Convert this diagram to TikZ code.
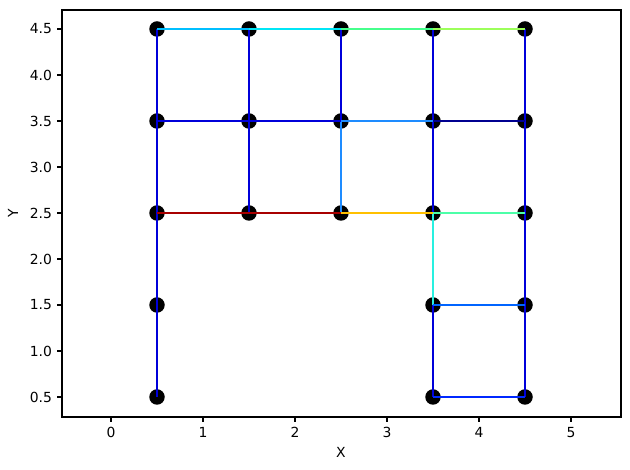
\documentclass[tikz,border=0pt]{standalone}
\usepackage{fontspec}
\setmainfont{DejaVu Sans}
\begin{document}
\begin{tikzpicture}[x=1pt,y=1pt,
  dot/.style={circle,fill=black,inner sep=0pt,minimum size=15.5pt},
  edge/.style={line width=2pt},
  frm/.style={line width=1.1pt},
  ticklab/.style={font=\fontsize{13.9}{16}\selectfont,inner sep=0pt},
  axlab/.style={font=\fontsize{13.9}{16}\selectfont,inner sep=0pt}]
\definecolor{dk}{HTML}{0000DA}
\definecolor{nv}{HTML}{000090}
\definecolor{ca}{HTML}{00BFFF}
\definecolor{cb}{HTML}{00E6F6}
\definecolor{cc}{HTML}{46FF8C}
\definecolor{cd}{HTML}{9CFF5A}
\definecolor{st}{HTML}{1E8CFF}
\definecolor{mr}{HTML}{A80000}
\definecolor{og}{HTML}{FFC000}
\definecolor{aq}{HTML}{4CFFA8}
\definecolor{tq}{HTML}{28F0E0}
\definecolor{bl}{HTML}{0064FF}
\definecolor{bb}{HTML}{0028FF}
\useasboundingbox (0,0) rectangle (630,470);
% frame
\draw[frm] (62,53) rectangle (621,460);
% x ticks
\foreach \k in {0,1,2,3,4,5}{
  \draw[frm] ({111+92*\k},53) -- ++(0,-4.9);
  \node[ticklab,anchor=north] at ({111+92*\k},43.2) {\k};
}
% y ticks
\foreach \k/\lab in {0/0.5,1/1.0,2/1.5,3/2.0,4/2.5,5/3.0,6/3.5,7/4.0,8/4.5}{
  \draw[frm] (62,{73+46*\k}) -- ++(-4.9,0);
  \node[ticklab,anchor=east] at (52.2,{73+46*\k}) {\lab};
}
\node[axlab] (xl) at (341,18) {X};
\node[axlab,rotate=90] (yl) at (13,256.5) {Y};
% dots
\foreach \i in {1,4,5}{
  \foreach \j in {1,2,3,4,5}{
    \node[dot] (p\i\j) at ({157+92*(\i-1)},{73+92*(\j-1)}) {};
  }
}
\foreach \i in {2,3}{
  \foreach \j in {3,4,5}{
    \node[dot] (p\i\j) at ({157+92*(\i-1)},{73+92*(\j-1)}) {};
  }
}
% vertical edges
\draw[edge,dk] (p11.center) -- (p12.center);
\draw[edge,dk] (p12.center) -- (p13.center);
\draw[edge,dk] (p13.center) -- (p14.center);
\draw[edge,dk] (p14.center) -- (p15.center);
\draw[edge,dk] (p23.center) -- (p24.center);
\draw[edge,dk] (p24.center) -- (p25.center);
\draw[edge,st] (p33.center) -- (p34.center);
\draw[edge,dk] (p34.center) -- (p35.center);
\draw[edge,dk] (p41.center) -- (p42.center);
\draw[edge,tq] (p42.center) -- (p43.center);
\draw[edge,dk] (p43.center) -- (p44.center);
\draw[edge,dk] (p44.center) -- (p45.center);
\draw[edge,dk] (p51.center) -- (p52.center);
\draw[edge,dk] (p52.center) -- (p53.center);
\draw[edge,dk] (p53.center) -- (p54.center);
\draw[edge,dk] (p54.center) -- (p55.center);
% horizontal edges
\draw[edge,ca] (p15.center) -- (p25.center);
\draw[edge,cb] (p25.center) -- (p35.center);
\draw[edge,cc] (p35.center) -- (p45.center);
\draw[edge,cd] (p45.center) -- (p55.center);
\draw[edge,dk] (p14.center) -- (p24.center);
\draw[edge,dk] (p24.center) -- (p34.center);
\draw[edge,st] (p34.center) -- (p44.center);
\draw[edge,nv] (p44.center) -- (p54.center);
\draw[edge,mr] (p13.center) -- (p23.center);
\draw[edge,mr] (p23.center) -- (p33.center);
\draw[edge,og] (p33.center) -- (p43.center);
\draw[edge,aq] (p43.center) -- (p53.center);
\draw[edge,bl] (p42.center) -- (p52.center);
\draw[edge,bb] (p41.center) -- (p51.center);
\end{tikzpicture}
\end{document}
